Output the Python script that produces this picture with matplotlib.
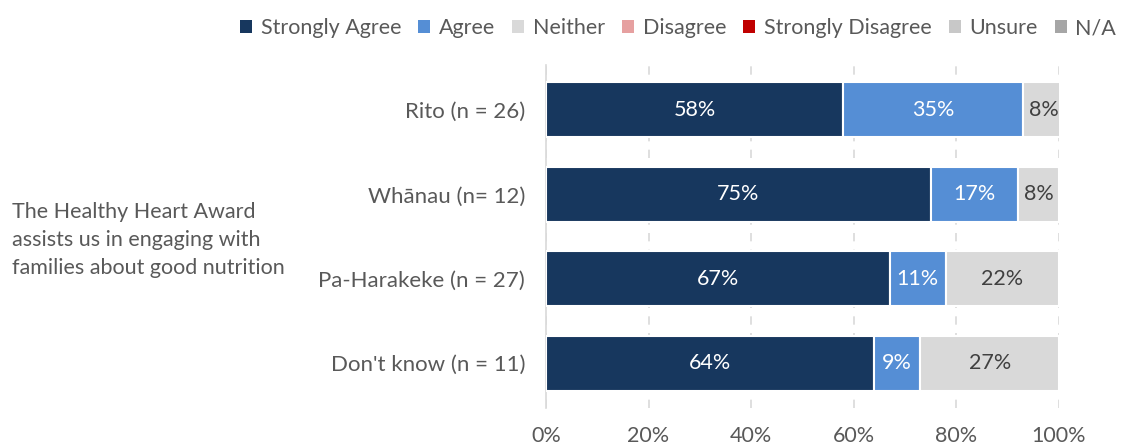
import numpy as np
import matplotlib.pyplot as plt
from matplotlib.patches import Patch

# Survey responses (percent of respondents)
groups = ['Rito (n = 26)', 'Whānau (n= 12)', 'Pa-Harakeke (n = 27)', "Don't know (n = 11)"]
strongly_agree = [58, 75, 67, 64]
agree = [35, 17, 11, 9]
neither = [8, 8, 22, 27]

legend_labels = ['Strongly Agree', 'Agree', 'Neither', 'Disagree',
                 'Strongly Disagree', 'Unsure', 'N/A']
legend_colors = ['#17375E', '#558ED5', '#D9D9D9', '#E6A0A0',
                 '#C00000', '#C8C8C8', '#A6A6A6']

question = 'The Healthy Heart Award\nassists us in engaging with\nfamilies about good nutrition'

plt.rcParams['font.family'] = ['Lato', 'DejaVu Sans']
text_grey = '#595959'
fs = 15.5

fig = plt.figure(figsize=(11.21, 4.46), dpi=100)
ax = fig.add_axes([0.487, 0.085, 0.4576, 0.769])

y = np.arange(len(groups))
series = [strongly_agree, agree, neither]
colors = legend_colors[:3]
label_colors = ['white', 'white', '#404040']

left = np.zeros(len(groups))
for vals, col, lcol in zip(series, colors, label_colors):
    vals = np.array(vals, dtype=float)
    bars = ax.barh(y, vals, left=left, height=0.65, color=col,
                   edgecolor='white', linewidth=1.5, zorder=3)
    for b, v in zip(bars, vals):
        ax.text(b.get_x() + b.get_width() / 2, b.get_y() + b.get_height() / 2,
                f'{v:.0f}%', ha='center', va='center', color=lcol,
                fontsize=fs, zorder=4)
    left += vals

ax.set_xlim(0, 100)
ax.set_ylim(len(groups) - 0.47, -0.53)
ax.set_yticks(y)
ax.set_yticklabels(groups, fontsize=fs + 0.5, color=text_grey)
ax.set_xticks(np.arange(0, 101, 20))
ax.set_xticklabels([f'{t}%' for t in range(0, 101, 20)], fontsize=fs, color=text_grey)
ax.tick_params(axis='x', length=0, pad=13)
ax.tick_params(axis='y', length=0, pad=15)

ax.grid(axis='x', color='#D9D9D9', linestyle=(0, (5, 5)), linewidth=1.2, zorder=0)
for s in ['top', 'right', 'bottom']:
    ax.spines[s].set_visible(False)
ax.spines['left'].set_color('#D9D9D9')
ax.spines['left'].set_linewidth(1.2)

fig.text(0.011, 0.462, question, ha='left', va='center', fontsize=fs,
         color=text_grey, linespacing=1.52)

handles = [Patch(facecolor=c, edgecolor='none') for c in legend_colors]
fig.legend(handles, legend_labels, loc='upper right', bbox_to_anchor=(1.009, 0.993),
           ncol=7, frameon=False, fontsize=fs, labelcolor=text_grey,
           handlelength=0.55, handleheight=0.55, handletextpad=0.4,
           columnspacing=0.8, borderaxespad=0.5, borderpad=0.2)

plt.savefig('out.png', dpi=100)
